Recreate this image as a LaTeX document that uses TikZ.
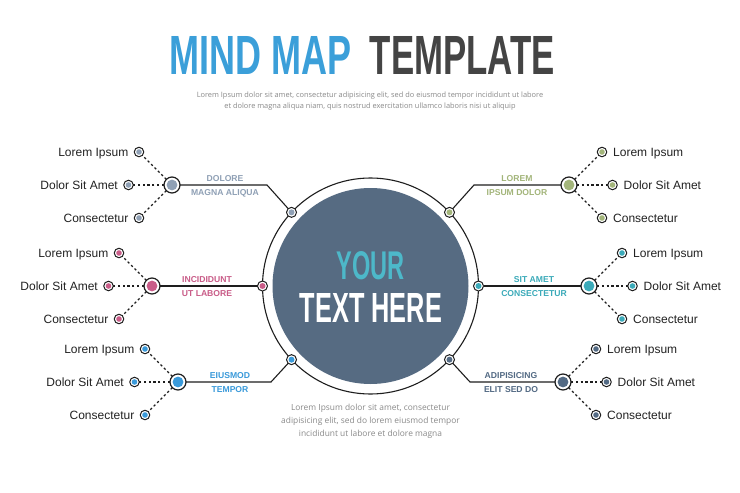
\documentclass[tikz,border=0pt]{standalone}
\usepackage{fontspec}
\setmainfont{Liberation Sans}
\newfontfamily\bodyfont{Open Sans}
\definecolor{cgray}{HTML}{8FA0B5}
\definecolor{cpink}{HTML}{C95C88}
\definecolor{cblue}{HTML}{3A9ADA}
\definecolor{cgreen}{HTML}{A3B57A}
\definecolor{cteal}{HTML}{3BAAB9}
\definecolor{cslate}{HTML}{536A84}
\definecolor{cdisc}{HTML}{566B82}
\definecolor{cyour}{HTML}{4DB8C9}
\definecolor{ctitle}{HTML}{3B9FD9}
\definecolor{cdark}{HTML}{444444}
\definecolor{ctext}{HTML}{222222}
\definecolor{cgraytext}{HTML}{8A8A8A}
\definecolor{cline}{HTML}{1E1E1E}
\tikzset{
  leafdot/.style={circle, draw=cline, line width=1pt, fill=white, minimum size=9.5pt, inner sep=0pt, outer sep=0pt,
    path picture={\fill[#1] (path picture bounding box.center) circle (2.8pt);}},
  hubdot/.style={circle, draw=cline, line width=1.2pt, fill=white, minimum size=16pt, inner sep=0pt, outer sep=0pt,
    path picture={\fill[#1] (path picture bounding box.center) circle (5.4pt);}},
  ringdot/.style={circle, draw=cline, line width=1pt, fill=white, minimum size=10pt, inner sep=0pt, outer sep=0pt,
    path picture={\fill[#1] (path picture bounding box.center) circle (3pt);}},
  mainline/.style={line width=1.1pt, draw=cline},
  dotline/.style={line width=1.3pt, dash pattern=on 2.3pt off 2.5pt, draw=cline},
  leaftext/.style={font=\fontsize{12}{14}\selectfont, text=ctext, inner sep=0pt},
  branchtext/.style={font=\fontsize{8.6}{10}\selectfont\bfseries, inner sep=0pt, anchor=base, text=#1},
}
\begin{document}
\begin{tikzpicture}[x=1pt,y=-1pt]
\useasboundingbox (0,0) rectangle (740,493);
\fill[white] (0,0) rectangle (740,493);

% title
\node[anchor=south, inner sep=0pt, text=ctitle] (t1) at (261,75) {\resizebox{182pt}{38pt}{\bfseries MIND MAP}};
\node[anchor=south, inner sep=0pt, text=cdark] (t2) at (462.5,75) {\resizebox{185pt}{38pt}{\bfseries TEMPLATE}};
\node[align=center, inner sep=0pt, text=cgraytext, font=\bodyfont\fontsize{7.4}{11}\selectfont] (sub) at (370,101.5)
  {Lorem Ipsum dolor sit amet, consectetur adipisicing elit, sed do eiusmod tempor incididunt ut labore\\
   et dolore magna aliqua niam, quis nostrud exercitation ullamco laboris nisi ut aliquip};

% center
\node[circle, fill=cdisc, minimum size=196pt, inner sep=0pt, outer sep=0pt] (disc) at (370.5,286) {};
\node[circle, draw=cline, line width=1.1pt, minimum size=216pt, inner sep=0pt, outer sep=0pt] (ring) at (370.5,286) {};
\node[inner sep=0pt, text=cyour] (your) at (370.5,266) {\resizebox{68pt}{28pt}{\bfseries YOUR}};
\node[inner sep=0pt, text=white] (here) at (371,307.5) {\resizebox{142pt}{29pt}{\bfseries TEXT HERE}};

\node[align=center, inner sep=0pt, text=cgraytext, font=\bodyfont\fontsize{8.4}{13}\selectfont] (bot) at (370.5,421)
  {Lorem Ipsum dolor sit amet, consectetur\\
   adipisicing elit, sed do lorem eiusmod tempor\\
   incididunt ut labore et dolore magna};

% ring dots
\node[ringdot=cgray]  (rtl) at (ring.137) {};
\node[ringdot=cpink]  (rml) at (ring.180) {};
\node[ringdot=cblue]  (rbl) at (ring.223) {};
\node[ringdot=cgreen] (rtr) at (ring.43) {};
\node[ringdot=cteal]  (rmr) at (ring.0) {};
\node[ringdot=cslate] (rbr) at (ring.317) {};

% corners
\coordinate (ktl) at (267,185);
\coordinate (kbl) at (271,382);
\coordinate (ktr) at (474,185);
\coordinate (kbr) at (470,382);

% hubs and leaves
\foreach \id/\hx/\hy/\col/\s in {tl/172/185/cgray/-1, ml/152/286/cpink/-1, bl/178/382/cblue/-1,
                                 tr/569/185/cgreen/1, mr/589/286/cteal/1, br/563/382/cslate/1}{
  \node[hubdot=\col] (h\id) at (\hx,\hy) {};
  \node[leafdot=\col] (a\id) at (\hx+\s*33,\hy-33) {};
  \node[leafdot=\col] (b\id) at (\hx+\s*43.5,\hy) {};
  \node[leafdot=\col] (c\id) at (\hx+\s*33,\hy+33) {};
  \draw[dotline] (h\id) -- (a\id);
  \draw[dotline] (h\id) -- (b\id);
  \draw[dotline] (h\id) -- (c\id);
}
\foreach \id in {tl,ml,bl}{
  \node[leaftext, anchor=base east] (la\id) at ([xshift=-10.5pt,yshift=-4.3pt]a\id.center) {Lorem Ipsum};
  \node[leaftext, anchor=base east] (lb\id) at ([xshift=-10.5pt,yshift=-4.3pt]b\id.center) {Dolor Sit Amet};
  \node[leaftext, anchor=base east] (lc\id) at ([xshift=-10.5pt,yshift=-4.3pt]c\id.center) {Consectetur};
}
\foreach \id in {tr,mr,br}{
  \node[leaftext, anchor=base west] (la\id) at ([xshift=11pt,yshift=-4.3pt]a\id.center) {Lorem Ipsum};
  \node[leaftext, anchor=base west] (lb\id) at ([xshift=11pt,yshift=-4.3pt]b\id.center) {Dolor Sit Amet};
  \node[leaftext, anchor=base west] (lc\id) at ([xshift=11pt,yshift=-4.3pt]c\id.center) {Consectetur};
}

% main connectors
\draw[mainline] (rtl) -- (ktl) -- (htl);
\draw[mainline] (rml) -- (hml);
\draw[mainline] (rbl) -- (kbl) -- (hbl);
\draw[mainline] (rtr) -- (ktr) -- (htr);
\draw[mainline] (rmr) -- (hmr);
\draw[mainline] (rbr) -- (kbr) -- (hbr);

% branch labels
\node[branchtext=cgray] (tla) at (225,181) {DOLORE};
\node[branchtext=cgray] (tlb) at (225,195) {MAGNA ALIQUA};
\node[branchtext=cpink] (mla) at (207,282) {INCIDIDUNT};
\node[branchtext=cpink] (mlb) at (207,296) {UT LABORE};
\node[branchtext=cblue] (bla) at (230,378) {EIUSMOD};
\node[branchtext=cblue] (blb) at (230,392) {TEMPOR};
\node[branchtext=cgreen] (tra) at (517,181) {LOREM};
\node[branchtext=cgreen] (trb) at (517,195) {IPSUM DOLOR};
\node[branchtext=cteal] (mra) at (534,282) {SIT AMET};
\node[branchtext=cteal] (mrb) at (534,296) {CONSECTETUR};
\node[branchtext=cslate] (bra) at (511,378) {ADIPISICING};
\node[branchtext=cslate] (brb) at (511,392) {ELIT SED DO};
\end{tikzpicture}
\end{document}
